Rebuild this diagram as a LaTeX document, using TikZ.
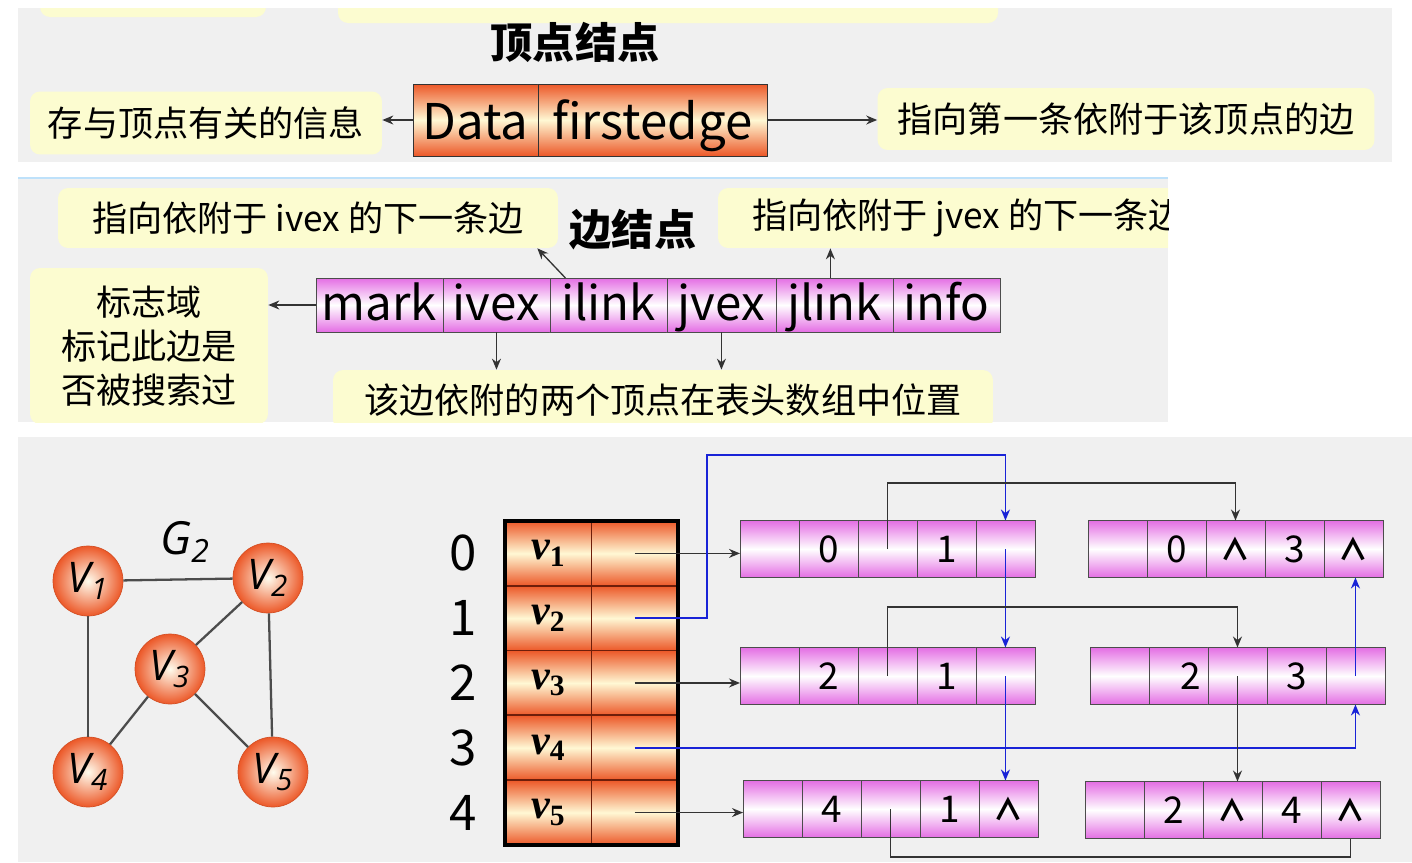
\documentclass[tikz,border=0pt]{standalone}
\usepackage{fontspec}
\setmainfont{Open Sans}
\newfontfamily\cjk{Noto Sans CJK SC}
\newfontfamily\tms{Liberation Serif}
\usetikzlibrary{arrows.meta,positioning}
\definecolor{panelgray}{RGB}{240,240,240}
\definecolor{noteyellow}{RGB}{252,252,208}
\definecolor{vred}{RGB}{236,88,40}
\definecolor{vpale}{RGB}{255,248,212}
\definecolor{vdark}{RGB}{110,30,10}
\definecolor{emag}{RGB}{228,110,228}
\definecolor{edgeblue}{RGB}{25,35,215}
\definecolor{skyline}{RGB}{190,225,250}

\begin{document}
\begin{tikzpicture}[
  x=0.02cm, y=-0.02cm,
  font=\cjk,
  note/.style={fill=noteyellow, rounded corners=2mm, align=center, inner sep=0pt,
    font=\cjk\fontsize{20}{25}\selectfont},
  head/.style={font=\cjk\bfseries\fontsize{24}{26}\selectfont},
  hot/.style={draw=black!80, top color=vred, bottom color=vred, middle color=vpale,
    inner sep=0pt, outer sep=0pt},
  magfill/.style={draw=black!70, top color=emag, bottom color=emag, middle color=white,
    inner sep=0pt, outer sep=0pt},
  vcell/.style={hot, minimum height=1.44cm, text height=0.9cm, text depth=0.1cm,
    font=\cjk\fontsize{28}{30}\selectfont},
  ecell/.style={magfill, minimum height=1.08cm, text height=0.78cm, text depth=0.18cm,
    font=\cjk\fontsize{27}{30}\selectfont},
  tcell/.style={hot, draw=vdark, line width=1pt, minimum width=1.73cm, minimum height=1.296cm,
    font=\tms\bfseries\itshape\fontsize{24}{24}\selectfont},
  lcell/.style={magfill, minimum width=1.18cm, minimum height=1.14cm,
    font=\cjk\fontsize{21}{21}\selectfont},
  nil/.style={font=\cjk\bfseries\fontsize{17}{17}\selectfont},
  vball/.style={circle, minimum size=1.4cm, inner sep=0pt, draw=vred!90!black,
    inner color=vpale!40!white, outer color=vred, font=\rmfamily\itshape\fontsize{24}{24}\selectfont},
  idx/.style={font=\cjk\fontsize{28}{28}\selectfont},
  gline/.style={line width=1.3pt, black!70},
  arr/.style={-{Stealth[length=2.2mm,width=1.8mm]}, line width=0.75pt, black!80},
  blu/.style={arr, edgeblue, line width=0.9pt}
]
\useasboundingbox (0,0) rectangle (1412,862);

\fill[panelgray] (18,8) rectangle (1392,162);
\begin{scope}
  \clip (18,8) rectangle (1392,162);
  \fill[noteyellow, rounded corners=2mm] (40,-40) rectangle (266,17);
  \fill[noteyellow, rounded corners=2mm] (338,-40) rectangle (998,23);
\end{scope}
\node[head] (vtitle) at (575,42) {顶点结点};
\node[vcell, minimum width=2.5cm, anchor=west] (data) at (413,120) {Data};
\node[vcell, minimum width=4.58cm, right=0pt of data] (first) {firstedge};
\node[note, minimum width=7.04cm, minimum height=1.26cm] (n_info) at (206,123) {存与顶点有关的信息};
\node[note, minimum width=9.94cm, minimum height=1.24cm] (n_first) at (1126,119) {指向第一条依附于该顶点的边};
\draw[arr] (data.west) -- (data.west -| n_info.east);
\draw[arr] (first.east) -- (first.east -| n_first.west);

\fill[panelgray] (18,178) rectangle (1168,422);
\draw[skyline, line width=1.2pt] (18,178) -- (1168,178);
\begin{scope}
  \clip (18,178) rectangle (1168,422);
  \node[note, minimum width=10cm, minimum height=1.2cm] (n_ilink) at (308,218) {指向依附于 ivex 的下一条边};
  \node[head] (etitle) at (633,230) {边结点};
  \node[note, minimum width=10cm, minimum height=1.2cm] (n_jlink) at (968,218) {指向依附于 jvex 的下一条边};
  \node[note, minimum width=4.76cm, minimum height=3.12cm] (n_mark) at (149,346) {标志域\\标记此边是\\否被搜索过};
  \node[note, minimum width=13.2cm, minimum height=1.2cm] (n_pos) at (663,400) {该边依附的两个顶点在表头数组中位置};
  \node[ecell, minimum width=2.54cm, anchor=west] (mark) at (316,305) {mark};
  \node[ecell, minimum width=2.14cm, right=0pt of mark] (ivex) {ivex};
  \node[ecell, minimum width=2.34cm, right=0pt of ivex] (ilink) {ilink};
  \node[ecell, minimum width=2.18cm, right=0pt of ilink] (jvex) {jvex};
  \node[ecell, minimum width=2.34cm, right=0pt of jvex] (jlink) {jlink};
  \node[ecell, minimum width=2.14cm, right=0pt of jlink] (info) {info};
  \draw[arr] (mark.west) -- (mark.west -| n_mark.east);
  \draw[arr] ([xshift=-0.86cm]ilink.north) -- ([xshift=-0.42cm]n_ilink.south east);
  \draw[arr] ([xshift=-0.08cm]jlink.north) -- ([xshift=-0.08cm]jlink.north |- n_jlink.south);
  \draw[arr] (ivex.south) -- (ivex.south |- n_pos.north);
  \draw[arr] (jvex.south) -- (jvex.south |- n_pos.north);
\end{scope}

\fill[panelgray] (18,437) rectangle (1412,862);
\node[font=\rmfamily\itshape\fontsize{26}{26}\selectfont] (g2) at (185,542) {G\textsubscript{2}};
\node[vball] (v1) at (88,581) {V\textsubscript{1}};
\node[vball] (v2) at (268,578) {V\textsubscript{2}};
\node[vball] (v3) at (170,669) {V\textsubscript{3}};
\node[vball] (v4) at (88,772) {V\textsubscript{4}};
\node[vball] (v5) at (273,772) {V\textsubscript{5}};
\draw[gline] (v1) -- (v2);
\draw[gline] (v1) -- (v4);
\draw[gline] (v2) -- (v3);
\draw[gline] (v2) -- (v5);
\draw[gline] (v3) -- (v4);
\draw[gline] (v3) -- (v5);

\node[tcell, anchor=north west] (t0a) at (505,521) {v\textsubscript{\upshape 1}};
\node[tcell, right=0pt of t0a] (t0b) {};
\node[tcell, below=0pt of t0a] (t1a) {v\textsubscript{\upshape 2}};
\node[tcell, right=0pt of t1a] (t1b) {};
\node[tcell, below=0pt of t1a] (t2a) {v\textsubscript{\upshape 3}};
\node[tcell, right=0pt of t2a] (t2b) {};
\node[tcell, below=0pt of t2a] (t3a) {v\textsubscript{\upshape 4}};
\node[tcell, right=0pt of t3a] (t3b) {};
\node[tcell, below=0pt of t3a] (t4a) {v\textsubscript{\upshape 5}};
\node[tcell, right=0pt of t4a] (t4b) {};
\draw[line width=2pt] (t0a.north west) rectangle (t4b.south east);
\node[idx, left=0.45cm of t0a] (i0) {0};
\node[idx, left=0.45cm of t1a] (i1) {1};
\node[idx, left=0.45cm of t2a] (i2) {2};
\node[idx, left=0.45cm of t3a] (i3) {3};
\node[idx, left=0.45cm of t4a] (i4) {4};

\node[lcell, anchor=west] (A1) at (740,549) {};
\node[lcell, right=0pt of A1] (A2) {0};  \node[lcell, right=0pt of A2] (A3) {};
\node[lcell, right=0pt of A3] (A4) {1};  \node[lcell, right=0pt of A4] (A5) {};
\node[lcell, anchor=west] (B1) at (1088,549) {};
\node[lcell, right=0pt of B1] (B2) {0};  \node[lcell, nil, right=0pt of B2] (B3) {∧};
\node[lcell, right=0pt of B3] (B4) {3};  \node[lcell, nil, right=0pt of B4] (B5) {∧};
\node[lcell, anchor=west] (C1) at (740,676) {};
\node[lcell, right=0pt of C1] (C2) {2};  \node[lcell, right=0pt of C2] (C3) {};
\node[lcell, right=0pt of C3] (C4) {1};  \node[lcell, right=0pt of C4] (C5) {};
\node[lcell, anchor=west] (D1) at (1090,676) {};
\node[lcell, right=0pt of D1] (D2) {\hspace{0.5cm}2};  \node[lcell, right=0pt of D2] (D3) {};
\node[lcell, right=0pt of D3] (D4) {3};  \node[lcell, right=0pt of D4] (D5) {};
\node[lcell, anchor=west] (E1) at (743,809) {};
\node[lcell, right=0pt of E1] (E2) {4};  \node[lcell, right=0pt of E2] (E3) {};
\node[lcell, right=0pt of E3] (E4) {1};  \node[lcell, nil, right=0pt of E4] (E5) {∧};
\node[lcell, anchor=west] (F1) at (1085,810) {};
\node[lcell, right=0pt of F1] (F2) {2};  \node[lcell, nil, right=0pt of F2] (F3) {∧};
\node[lcell, right=0pt of F3] (F4) {4};  \node[lcell, nil, right=0pt of F4] (F5) {∧};

\coordinate (b1) at (707,455);
\draw[arr] (t0b.center) -- (t0b.center -| A1.west);
\draw[blu] (t1b.center) -| (b1) -| (A5.north);
\draw[arr] (t2b.center) -- (t2b.center -| C1.west);
\draw[blu] (t3b.center) -| (D5.south);
\draw[arr] (t4b.center) -- (t4b.center -| E1.west);
\draw[arr] (A3.center) -- ++(0,-66) -| (B3.north);
\draw[blu] (A5.center) -- (A5.center |- C5.north);
\draw[arr] (C3.center) -- ++(0,-69) -| (D3.north);
\draw[blu] (C5.center) -- (C5.center |- E5.north);
\draw[arr] (D3.center) -- (D3.center |- F3.north);
\draw[blu] (D5.center) -- (D5.center |- B5.south);
\draw[line width=0.75pt, black!80] (E3.center) -- ++(0,48) -| (F5.south);
\end{tikzpicture}
\end{document}
